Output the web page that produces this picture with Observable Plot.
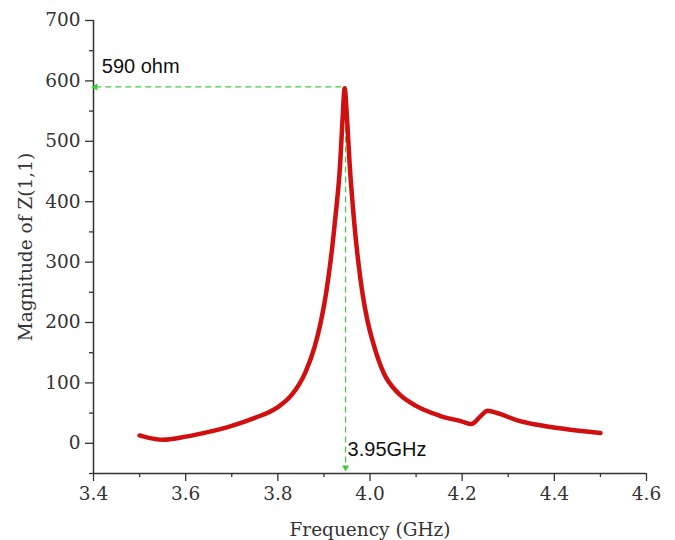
<!DOCTYPE html>
<html><head><meta charset="utf-8">
<script src="https://cdn.jsdelivr.net/npm/d3@7"></script>
<script src="https://cdn.jsdelivr.net/npm/@observablehq/plot@0.6"></script>
<style>body{margin:0;background:#fff}</style>
</head><body><div id="chart"></div>
<script>
// Frequency (GHz) and |Z(1,1)| (ohm)
const freq = [3.50, 3.52, 3.55, 3.60, 3.65, 3.70, 3.75, 3.80, 3.83, 3.86, 3.88, 3.893, 3.905, 3.915, 3.925, 3.935, 3.940, 3.945, 3.950, 3.956, 3.963, 3.970, 3.976, 3.985, 3.994, 4.01, 4.03, 4.06, 4.10, 4.15, 4.20, 4.22, 4.24, 4.255, 4.28, 4.32, 4.36, 4.42, 4.50];
const mag  = [13,   9,    6,    11,   19,   29,   42,   60,   80,   118,  160,  200,   250,   305,   375,   460,   530,   588,   540,   460,   390,   332,   292,   242,   205,   158,  116,  84,   62,   46,   36,   32,   45,   54,    49,   38,   31,   24,   17];
const xTicks = [3.4, 3.6, 3.8, 4.0, 4.2, 4.4, 4.6];
const xMinor = [3.5, 3.7, 3.9, 4.1, 4.3, 4.5];
const yTicks = [0, 100, 200, 300, 400, 500, 600, 700];
const yMinor = [-50, 50, 150, 250, 350, 450, 550, 650];
const peakFreq = 3.947;
const peakMag = 590;
const peakLabel = "590 ohm";
const freqLabel = "3.95GHz";

const data = freq.map((f, i) => ({f, m: mag[i]}));
const green = "#3ccc3c";
const axisColor = "#333";
const serif = "'DejaVu Serif', serif";

const chart = Plot.plot({
  width: 675,
  height: 540,
  marginLeft: 93,
  marginRight: 29,
  marginTop: 20,
  marginBottom: 67,
  style: {fontFamily: serif, fontSize: "18px", color: axisColor, background: "#fff"},
  x: {domain: [3.4, 4.6]},
  y: {domain: [-50, 700]},
  marks: [
    Plot.axisX(xTicks, {tickSize: 8, tickPadding: 5, tickFormat: d3.format(".1f"), fontSize: 18.5, label: null, stroke: axisColor, strokeWidth: 1.3}),
    Plot.axisX({label: "Frequency (GHz)", labelAnchor: "center", labelArrow: "none", labelOffset: 62, ticks: [], fontSize: 18.5}),
    Plot.axisX(xMinor, {tickSize: 4, tickFormat: () => "", label: null, stroke: axisColor, strokeWidth: 1.3}),
    Plot.axisY(yTicks, {tickSize: 8, tickPadding: 5, fontSize: 18.5, label: null, stroke: axisColor, strokeWidth: 1.3}),
    Plot.axisY({label: "Magnitude of Z(1,1)", labelAnchor: "center", labelArrow: "none", labelOffset: 75, ticks: [], fontSize: 18.5}),
    Plot.axisY(yMinor, {tickSize: 4, tickFormat: () => "", label: null, stroke: axisColor, strokeWidth: 1.3}),
    Plot.ruleX([3.4], {stroke: axisColor, strokeWidth: 1.5}),
    Plot.ruleY([-50], {stroke: axisColor, strokeWidth: 1.5}),
    Plot.ruleY([peakMag], {x1: 3.405, x2: peakFreq, stroke: green, strokeDasharray: "6,4", strokeWidth: 1.2}),
    Plot.ruleX([peakFreq], {y1: peakMag, y2: -38, stroke: green, strokeDasharray: "6,4", strokeWidth: 1.2}),
    Plot.line(data, {x: "f", y: "m", curve: "monotone-x", stroke: "#d01010", strokeWidth: 4.5, strokeLinejoin: "round", strokeLinecap: "round"}),
    Plot.dot([{x: 3.404, y: peakMag, r: -90}], {x: "x", y: "y", rotate: "r", symbol: "triangle", r: 2.6, fill: green, stroke: "none"}),
    Plot.dot([{x: peakFreq, y: -40, r: 180}], {x: "x", y: "y", rotate: "r", symbol: "triangle", r: 2.6, fill: green, stroke: "none"}),
    Plot.text([peakLabel], {x: 3.418, y: peakMag, dy: -20, text: d => d, textAnchor: "start", fontFamily: "'Liberation Sans', Arial, sans-serif", fontSize: 20, fill: "#111"}),
    Plot.text([freqLabel], {x: peakFreq, y: -11, dx: 2, text: d => d, textAnchor: "start", fontFamily: "'Liberation Sans', Arial, sans-serif", fontSize: 20, fill: "#111"})
  ]
});
document.getElementById("chart").appendChild(chart);
</script>
</body></html>
